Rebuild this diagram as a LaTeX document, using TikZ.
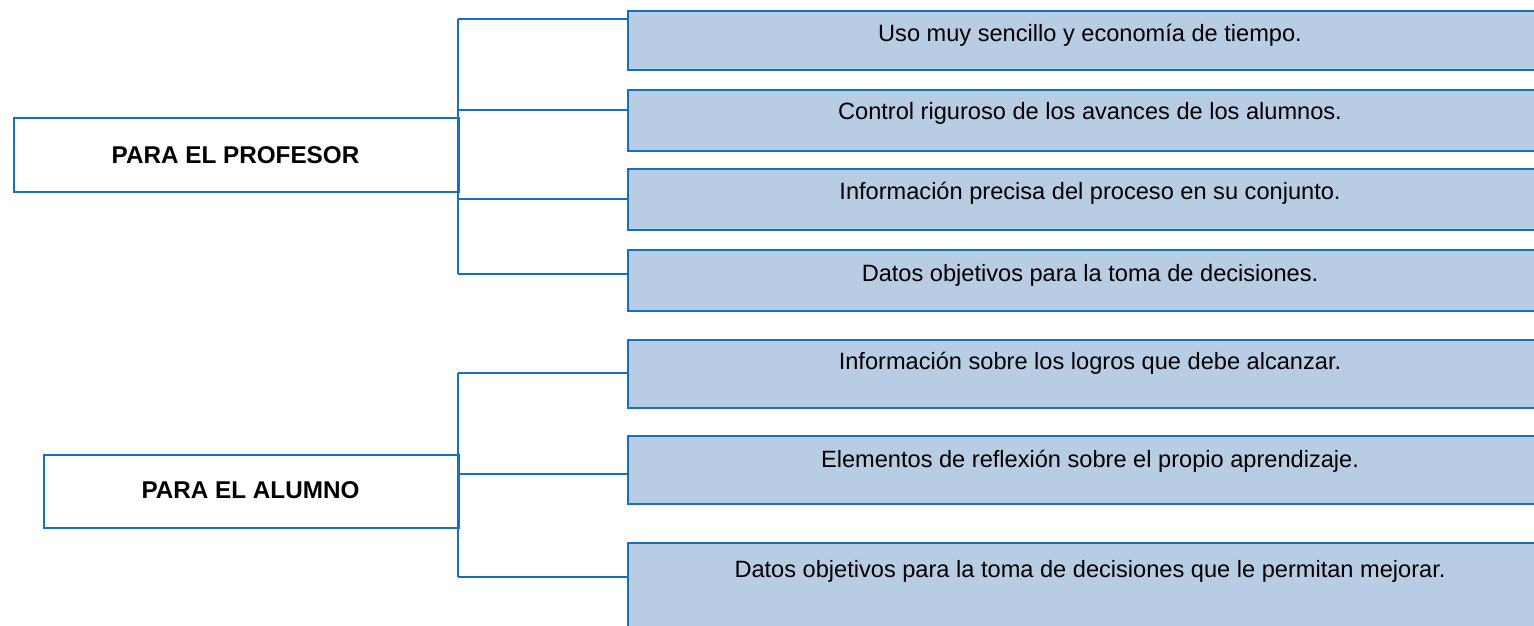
\documentclass[tikz,border=0pt]{standalone}
\usepackage{fontspec}
\setmainfont{Liberation Sans}
\definecolor{bordblue}{RGB}{20,112,196}
\definecolor{fillblue}{RGB}{184,204,228}
\tikzset{
  rbox/.style={draw=bordblue, line width=1.6pt, fill=fillblue, anchor=north west, inner sep=0pt, minimum width=935*0.75pt},
  lbox/.style={draw=bordblue, line width=1.3pt, fill=white, anchor=north west, inner sep=0pt},
  rtext/.style={font=\fontsize{17.7}{21}\selectfont, inner sep=0pt, anchor=base},
  ltext/.style={font=\fontsize{18.2}{21}\selectfont\bfseries, inner sep=0pt, anchor=base},
  conn/.style={draw=bordblue, line width=1.2pt}
}
\begin{document}
\begin{tikzpicture}[x=0.75pt,y=-0.75pt]
\useasboundingbox (0,0) rectangle (1534,625);
% left boxes
\node[lbox, minimum width=445*0.75pt, minimum height=74*0.75pt] (prof) at (13,117) {};
\node[ltext] (proft) at (235.5,163) {PARA EL PROFESOR};
\node[lbox, minimum width=415*0.75pt, minimum height=73*0.75pt] (alum) at (43,454) {};
\node[ltext] (alumt) at (250.5,498.3) {PARA EL ALUMNO};
% right boxes
\node[rbox, minimum height=59*0.75pt] (b1) at (627,10) {};
\node[rbox, minimum height=61*0.75pt] (b2) at (627,89) {};
\node[rbox, minimum height=61*0.75pt] (b3) at (627,168) {};
\node[rbox, minimum height=61*0.75pt] (b4) at (627,249) {};
\node[rbox, minimum height=68*0.75pt] (b5) at (627,339) {};
\node[rbox, minimum height=68*0.75pt] (b6) at (627,435) {};
\node[rbox, minimum height=95*0.75pt] (b7) at (627,542) {};
\node[rtext] (t1) at (1090,41.7) {Uso muy sencillo y economía de tiempo.};
\node[rtext] (t2) at (1090,119.5) {Control riguroso de los avances de los alumnos.};
\node[rtext] (t3) at (1090,199.5) {Información precisa del proceso en su conjunto.};
\node[rtext] (t4) at (1090,281.5) {Datos objetivos para la toma de decisiones.};
\node[rtext] (t5) at (1090,369.5) {Información sobre los logros que debe alcanzar.};
\node[rtext] (t6) at (1090,467.5) {Elementos de reflexión sobre el propio aprendizaje.};
\node[rtext] (t7) at (1090,577.7) {Datos objetivos para la toma de decisiones que le permitan mejorar.};
% junctions
\coordinate (j1) at (458,19);
\coordinate (j2) at (458,110);
\coordinate (j3) at (458,199);
\coordinate (j4) at (458,274);
\coordinate (k1) at (458,373);
\coordinate (k2) at (458,474);
\coordinate (k3) at (458,577);
\draw[conn] (j1) -- (j4);
\draw[conn] (j1) -- (j1 -| b1.west);
\draw[conn] (j2) -- (j2 -| b2.west);
\draw[conn] (j3) -- (j3 -| b3.west);
\draw[conn] (j4) -- (j4 -| b4.west);
\draw[conn] (k1) -- (k3);
\draw[conn] (k1) -- (k1 -| b5.west);
\draw[conn] (k2) -- (k2 -| b6.west);
\draw[conn] (k3) -- (k3 -| b7.west);
\end{tikzpicture}
\end{document}
